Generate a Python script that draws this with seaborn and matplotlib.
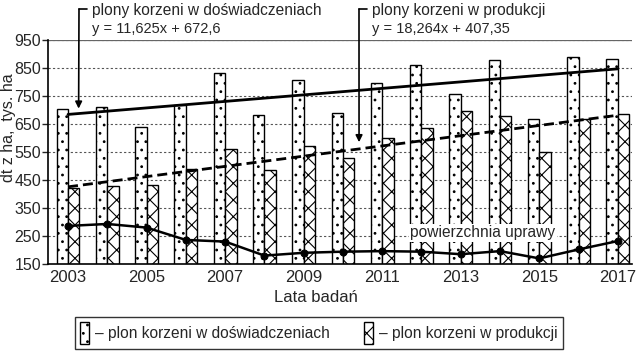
import matplotlib
matplotlib.use("Agg")
import matplotlib.pyplot as plt
from matplotlib.patches import Patch
from matplotlib.lines import Line2D
import seaborn as sns
import pandas as pd
import numpy as np

# ---- data ----
years = [2003, 2004, 2005, 2006, 2007, 2008, 2009, 2010,
         2011, 2012, 2013, 2014, 2015, 2016, 2017]
plon_dosw = [702, 710, 638, 718, 831, 682, 806, 688, 795, 861, 757, 879, 667, 888, 882]
plon_prod = [422, 430, 432, 488, 560, 486, 571, 527, 599, 637, 696, 680, 551, 667, 684]
powierzchnia = [286, 293, 280, 236, 230, 180, 190, 194, 196, 194, 185, 196, 170, 202, 232]

series_names = ["plon korzeni w doświadczeniach", "plon korzeni w produkcji"]
trend_dosw = (11.625, 672.6)   # y = 11,625x + 672,6
trend_prod = (18.264, 407.35)  # y = 18,264x + 407,35
y_ticks = [150, 250, 350, 450, 550, 650, 750, 850, 950]
x_ticks = [2003, 2005, 2007, 2009, 2011, 2013, 2015, 2017]

sns.set_style("white")
plt.rcParams['font.family'] = ['Liberation Sans', 'DejaVu Sans']
plt.rcParams['hatch.linewidth'] = 0.8

W, H = 637, 353
fig = plt.figure(figsize=(W / 100, H / 100), dpi=100)
ax = fig.add_axes([48 / W, 89 / H, 584 / W, 224 / H])

df = pd.DataFrame({
    "year": years * 2,
    "value": plon_dosw + plon_prod,
    "series": [series_names[0]] * len(years) + [series_names[1]] * len(years),
})
sns.barplot(data=df, x="year", y="value", hue="series", hue_order=series_names,
            native_scale=True, width=0.58, gap=0, palette=["white", "white"],
            saturation=1, edgecolor="black", linewidth=1.0, legend=False,
            ax=ax, zorder=2)
hatches = ["..", "xx"]
for cont, h in zip(ax.containers, hatches):
    for bar in cont:
        bar.set_hatch(h)

# trend lines
xi = np.arange(1, len(years) + 1)
sns.lineplot(x=years, y=trend_dosw[0] * xi + trend_dosw[1], ax=ax, color="black",
             lw=2.0, zorder=4)
sns.lineplot(x=years, y=trend_prod[0] * xi + trend_prod[1], ax=ax, color="black",
             lw=2.0, dashes=(3.6, 1.8), zorder=4)
# area line
sns.lineplot(x=years, y=powierzchnia, ax=ax, color="black", lw=1.8, marker="o",
             markersize=5, markeredgecolor="black", zorder=5)

ax.set_xlim(2002.49, 2017.36)
ax.set_ylim(150, 950)
ax.set_yticks(y_ticks)
ax.set_xticks(x_ticks)
ax.set_xticklabels([str(t) for t in x_ticks])
ax.set_xlabel("")
ax.set_ylabel("")
ax.tick_params(axis="y", length=4, width=1, pad=1, labelsize=11.5, direction="out", left=True)
ax.tick_params(axis="x", length=0, pad=4, labelsize=12)
for s in ["top", "right"]:
    ax.spines[s].set_visible(False)
for s in ["left", "bottom"]:
    ax.spines[s].set_color("black")
    ax.spines[s].set_linewidth(1.2)
    ax.spines[s].set_zorder(6)

ax.grid(axis="y", linestyle=(0, (2, 2)), color="#555555", lw=0.8)
ax.set_axisbelow(True)
ax.axhline(y_ticks[-1], color="#666666", lw=0.9, zorder=1)

# text label inside
ax.text(2011.71, 262, "powierzchnia uprawy", fontsize=11.2, ha="left", va="center",
        zorder=7, bbox=dict(facecolor="white", edgecolor="none", pad=1.0))

# annotations above
def bracket(x_px, y_px, tip, title, eq):
    fig.text((x_px + 13) / W, 1 - 10 / H, title, fontsize=11.2, ha="left", va="center")
    fig.text((x_px + 13) / W, 1 - 29 / H, eq, fontsize=10.5, ha="left", va="center")
    fig.add_artist(Line2D([x_px / W, (x_px + 8) / W], [1 - y_px / H, 1 - y_px / H],
                          color="black", lw=1.2, transform=fig.transFigure))
    ax.annotate("", xy=tip, xycoords="data", xytext=(x_px, H - y_px),
                textcoords="figure pixels",
                arrowprops=dict(arrowstyle="-|>", color="black", lw=1.2,
                                shrinkA=0, shrinkB=0, mutation_scale=10),
                annotation_clip=False)

bracket(79, 9, (2003.27, 705), "plony korzeni w doświadczeniach", "y = 11,625x + 672,6")
bracket(359, 9, (2010.41, 585), "plony korzeni w produkcji", "y = 18,264x + 407,35")

fig.text(9 / W, 1 - 128 / H, "dt z ha,  tys. ha", rotation=90, fontsize=11.5,
         ha="center", va="center")
fig.text(316 / W, 1 - 297 / H, "Lata badań", fontsize=12, ha="center", va="center")

handles = [Patch(facecolor="white", edgecolor="black", hatch=h, lw=1.0) for h in hatches]
labels = ["– " + n for n in series_names]
leg = fig.legend(handles, labels, loc="center", bbox_to_anchor=(319 / W, 1 - 333 / H),
                 ncol=2, fontsize=11.2, frameon=True, fancybox=False,
                 handlelength=0.55, handleheight=1.75, handletextpad=0.4,
                 columnspacing=2.2, borderpad=0.35, borderaxespad=0)
leg.get_frame().set_edgecolor("black")
leg.get_frame().set_linewidth(1.0)

fig.savefig("out.png", dpi=100)
